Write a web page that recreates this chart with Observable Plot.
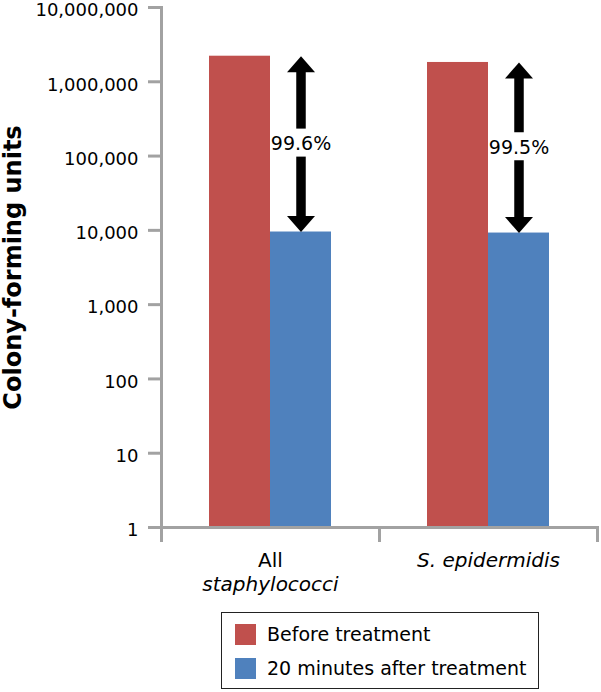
<!DOCTYPE html>
<html>
<head>
<meta charset="utf-8">
<script src="https://cdn.jsdelivr.net/npm/d3@7"></script>
<script src="https://cdn.jsdelivr.net/npm/@observablehq/plot@0.6"></script>
<style>
  html, body { margin: 0; padding: 0; background: #ffffff; }
  body { font-family: "DejaVu Sans", sans-serif; color: #000; }
  #chart svg { display: block; }
  #legend {
    margin-left: 221px; margin-top: 12px; width: 316px; height: 75px;
    border: 1.5px solid #222; box-sizing: content-box; position: relative;
  }
  .lg-row { position: absolute; left: 13px; display: flex; align-items: center; height: 21px; }
  .lg-sw { width: 21px; height: 21px; margin-right: 11px; }
  .lg-tx { font-size: 19px; line-height: 21px; white-space: nowrap; }
</style>
</head>
<body>
<div id="chart"></div>
<div id="legend"></div>
<script>
// ---- data ----
const categories = ["All staphylococci", "S. epidermidis"];
const series = ["Before treatment", "20 minutes after treatment"];
const beforeValues = [2210000, 1820000];
const afterValues = [9500, 9200];
const reductionLabels = ["99.6%", "99.5%"];
const yTicks = [1, 10, 100, 1000, 10000, 100000, 1000000, 10000000];
const seriesColors = ["#c0504d", "#4f81bd"];
const yLabel = "Colony-forming units";
const categoryLines = [
  {cat: "All staphylococci", line: 0, text: "All", italic: false},
  {cat: "All staphylococci", line: 1, text: "staphylococci", italic: true},
  {cat: "S. epidermidis", line: 0, text: "S. epidermidis", italic: true}
];

// ---- tables built from the arrays ----
const rows = categories.flatMap((c, i) => [
  {cat: c, series: series[0], value: beforeValues[i]},
  {cat: c, series: series[1], value: afterValues[i]}
]);
const arrows = categories.map((c, i) => ({
  cat: c, series: series[1],
  top: beforeValues[i], bottom: afterValues[i],
  mid: Math.sqrt(beforeValues[i] * afterValues[i]),
  label: reductionLabels[i]
}));

const gray = "#a2a2a2";
const headUp = {draw(ctx) { ctx.moveTo(0, 0); ctx.lineTo(14, 16); ctx.lineTo(-14, 16); ctx.closePath(); }};
const headDown = {draw(ctx) { ctx.moveTo(0, 0); ctx.lineTo(14, -16); ctx.lineTo(-14, -16); ctx.closePath(); }};

const chart = Plot.plot({
  width: 601,
  height: 600,
  marginLeft: 160,
  marginRight: 4,
  marginTop: 7,
  marginBottom: 73,
  style: {fontFamily: "DejaVu Sans, sans-serif", fontSize: "18px", color: "#000", background: "#fff", overflow: "visible"},
  fx: {domain: categories, padding: 0, axis: null, label: null},
  x: {domain: series, paddingInner: 0, paddingOuter: 0.76, axis: null, label: null},
  y: {type: "log", domain: [1, 10000000], axis: null},
  color: {domain: series, range: seriesColors},
  marks: [
    Plot.barY(rows, {fx: "cat", x: "series", y1: 1, y2: "value", fill: "series"}),
    Plot.ruleY([1], {stroke: gray, strokeWidth: 3}),
    Plot.frame({anchor: "left", facetAnchor: "left", stroke: gray, strokeWidth: 3}),
    Plot.frame({anchor: "left", stroke: gray, strokeWidth: 3, insetTop: 520, insetBottom: -13}),
    Plot.frame({anchor: "right", stroke: gray, strokeWidth: 3, insetTop: 520, insetBottom: -13}),
    // y ticks (marks only)
    Plot.axisY({ticks: yTicks, tickFormat: () => "", tickSize: 13, stroke: gray, strokeWidth: 3, label: null}),
    // y tick labels, sitting a little below their ticks as in the reference
    Plot.axisY({ticks: yTicks, tickFormat: d3.format(","), tickSize: 0, tickPadding: 23, dy: 3,
      fill: "#000", fontSize: 18, label: null}),
    // arrow shafts
    Plot.ruleX(arrows, {fx: "cat", x: "series", y1: "top", y2: "mid", stroke: "#000", strokeWidth: 9.5, insetTop: 8, insetBottom: 15}),
    Plot.ruleX(arrows, {fx: "cat", x: "series", y1: "mid", y2: "bottom", stroke: "#000", strokeWidth: 9.5, insetTop: 13, insetBottom: 8}),
    // arrow heads
    Plot.dot(arrows, {fx: "cat", x: "series", y: "top", symbol: headUp, r: 5, fill: "#000", stroke: null}),
    Plot.dot(arrows, {fx: "cat", x: "series", y: "bottom", symbol: headDown, r: 5, fill: "#000", stroke: null}),
    Plot.text(arrows, {fx: "cat", x: "series", y: "mid", text: "label", fontSize: 19, fill: "#000"}),
    // category labels
    Plot.text(categoryLines.filter(d => !d.italic && d.line === 0), {fx: "cat", text: "text", frameAnchor: "bottom", lineAnchor: "middle", textAnchor: "middle", dy: 33, fontSize: 20, fill: "#000"}),
    Plot.text(categoryLines.filter(d => d.italic && d.line === 0), {fx: "cat", text: "text", frameAnchor: "bottom", lineAnchor: "middle", textAnchor: "middle", dy: 33, fontSize: 20, fontStyle: "italic", fill: "#000"}),
    Plot.text(categoryLines.filter(d => d.italic && d.line === 1), {fx: "cat", text: "text", frameAnchor: "bottom", lineAnchor: "middle", textAnchor: "middle", dy: 57, fontSize: 20, fontStyle: "italic", fill: "#000"}),
    // y label
    Plot.text([{cat: categories[0], text: yLabel}], {fx: "cat", text: "text", frameAnchor: "left", textAnchor: "middle", lineAnchor: "middle", rotate: -90, dx: -148, fontSize: 24, fontWeight: "bold", fill: "#000"})
  ]
});
document.getElementById("chart").append(chart);

// legend from the plot's color scale
const colorScale = chart.scale("color");
const legend = document.getElementById("legend");
colorScale.domain.forEach((s, i) => {
  const row = document.createElement("div");
  row.className = "lg-row";
  row.style.top = (11 + i * 33.5) + "px";
  const sw = document.createElement("div");
  sw.className = "lg-sw";
  sw.style.background = colorScale.range[i];
  const tx = document.createElement("span");
  tx.className = "lg-tx";
  tx.textContent = s;
  row.append(sw, tx);
  legend.append(row);
});
</script>
</body>
</html>
